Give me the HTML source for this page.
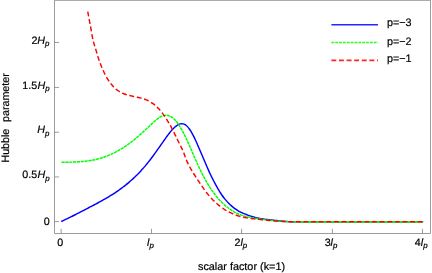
<!DOCTYPE html>
<html><head><meta charset="utf-8"><title>plot</title>
<style>
html,body{margin:0;padding:0;background:#fff;}
body{width:432px;height:273px;overflow:hidden;position:relative;font-family:"Liberation Sans",sans-serif;}
</style></head><body>
<svg width="432" height="273" viewBox="0 0 432 273" style="position:absolute;left:0;top:0;display:block;will-change:transform">
<rect width="432" height="273" fill="#fff"/>
<g fill="none" stroke-width="1.45" stroke-linecap="butt" stroke-linejoin="round">
<path d="M61.70 221.23 C61.95 221.11 62.70 220.77 63.20 220.54 C63.70 220.31 64.20 220.08 64.70 219.84 C65.20 219.61 65.70 219.38 66.20 219.14 C66.70 218.90 67.20 218.66 67.70 218.42 C68.20 218.18 68.70 217.94 69.20 217.70 C69.70 217.46 70.20 217.21 70.70 216.97 C71.20 216.72 71.70 216.48 72.20 216.23 C72.70 215.98 73.20 215.73 73.70 215.48 C74.20 215.23 74.70 214.98 75.20 214.73 C75.70 214.48 76.20 214.22 76.70 213.97 C77.20 213.72 77.70 213.46 78.20 213.20 C78.70 212.95 79.20 212.69 79.70 212.44 C80.20 212.18 80.70 211.92 81.20 211.66 C81.70 211.40 82.20 211.14 82.70 210.88 C83.20 210.63 83.70 210.36 84.20 210.10 C84.70 209.84 85.20 209.58 85.70 209.32 C86.20 209.06 86.70 208.80 87.20 208.54 C87.70 208.28 88.20 208.01 88.70 207.75 C89.20 207.49 89.70 207.23 90.20 206.96 C90.70 206.70 91.20 206.44 91.70 206.18 C92.20 205.91 92.70 205.65 93.20 205.39 C93.70 205.12 94.20 204.86 94.70 204.59 C95.20 204.33 95.70 204.06 96.20 203.80 C96.70 203.53 97.20 203.26 97.70 202.99 C98.20 202.72 98.70 202.45 99.20 202.18 C99.70 201.91 100.20 201.64 100.70 201.36 C101.20 201.08 101.70 200.81 102.20 200.53 C102.70 200.25 103.20 199.97 103.70 199.68 C104.20 199.40 104.70 199.12 105.20 198.83 C105.70 198.54 106.20 198.25 106.70 197.96 C107.20 197.66 107.70 197.37 108.20 197.07 C108.70 196.77 109.20 196.47 109.70 196.16 C110.20 195.86 110.70 195.55 111.20 195.24 C111.70 194.93 112.20 194.61 112.70 194.29 C113.20 193.97 113.70 193.65 114.20 193.33 C114.70 193.00 115.20 192.67 115.70 192.33 C116.20 192.00 116.70 191.66 117.20 191.32 C117.70 190.97 118.20 190.63 118.70 190.28 C119.20 189.92 119.70 189.57 120.20 189.21 C120.70 188.84 121.20 188.48 121.70 188.11 C122.20 187.73 122.70 187.36 123.20 186.98 C123.70 186.59 124.20 186.21 124.70 185.82 C125.20 185.42 125.70 185.02 126.20 184.62 C126.70 184.22 127.20 183.81 127.70 183.39 C128.20 182.98 128.70 182.56 129.20 182.13 C129.70 181.70 130.20 181.27 130.70 180.83 C131.20 180.39 131.70 179.94 132.20 179.49 C132.70 179.04 133.20 178.58 133.70 178.11 C134.20 177.65 134.70 177.17 135.20 176.69 C135.70 176.22 136.20 175.73 136.70 175.24 C137.20 174.74 137.70 174.24 138.20 173.73 C138.70 173.21 139.20 172.68 139.70 172.15 C140.20 171.61 140.70 171.07 141.20 170.52 C141.70 169.97 142.20 169.41 142.70 168.84 C143.20 168.28 143.70 167.70 144.20 167.12 C144.70 166.54 145.20 165.95 145.70 165.35 C146.20 164.75 146.70 164.14 147.20 163.53 C147.70 162.91 148.20 162.29 148.70 161.65 C149.20 161.02 149.70 160.38 150.20 159.73 C150.70 159.08 151.20 158.42 151.70 157.75 C152.20 157.08 152.70 156.41 153.20 155.73 C153.70 155.05 154.20 154.36 154.70 153.66 C155.20 152.97 155.70 152.27 156.20 151.57 C156.70 150.86 157.20 150.15 157.70 149.44 C158.20 148.73 158.70 148.03 159.20 147.32 C159.70 146.62 160.20 145.91 160.70 145.20 C161.20 144.49 161.70 143.78 162.20 143.07 C162.70 142.36 163.20 141.65 163.70 140.94 C164.20 140.23 164.70 139.51 165.20 138.81 C165.70 138.10 166.20 137.39 166.70 136.69 C167.20 135.99 167.70 135.28 168.20 134.61 C168.70 133.95 169.20 133.31 169.70 132.69 C170.20 132.06 170.70 131.45 171.20 130.87 C171.70 130.28 172.20 129.72 172.70 129.19 C173.20 128.66 173.70 128.15 174.20 127.68 C174.70 127.22 175.20 126.79 175.70 126.39 C176.20 125.99 176.70 125.60 177.20 125.28 C177.70 124.95 178.20 124.66 178.70 124.43 C179.20 124.20 179.70 124.02 180.20 123.90 C180.70 123.78 181.20 123.71 181.70 123.71 C182.20 123.71 182.70 123.77 183.20 123.89 C183.70 124.02 184.20 124.21 184.70 124.47 C185.20 124.73 185.70 125.05 186.20 125.46 C186.70 125.86 187.20 126.34 187.70 126.88 C188.20 127.43 188.70 128.06 189.20 128.75 C189.70 129.43 190.20 130.19 190.70 130.99 C191.20 131.80 191.70 132.67 192.20 133.58 C192.70 134.48 193.20 135.44 193.70 136.44 C194.20 137.43 194.70 138.46 195.20 139.53 C195.70 140.59 196.20 141.70 196.70 142.83 C197.20 143.95 197.70 145.12 198.20 146.27 C198.70 147.43 199.20 148.60 199.70 149.76 C200.20 150.93 200.70 152.10 201.20 153.27 C201.70 154.44 202.20 155.62 202.70 156.79 C203.20 157.96 203.70 159.13 204.20 160.30 C204.70 161.46 205.20 162.63 205.70 163.79 C206.20 164.94 206.70 166.10 207.20 167.24 C207.70 168.38 208.20 169.52 208.70 170.64 C209.20 171.76 209.70 172.89 210.20 173.96 C210.70 175.02 211.20 176.02 211.70 177.03 C212.20 178.04 212.70 179.04 213.20 180.01 C213.70 180.99 214.20 181.95 214.70 182.89 C215.20 183.84 215.70 184.78 216.20 185.69 C216.70 186.61 217.20 187.50 217.70 188.37 C218.20 189.24 218.70 190.09 219.20 190.90 C219.70 191.72 220.20 192.51 220.70 193.27 C221.20 194.03 221.70 194.77 222.20 195.48 C222.70 196.18 223.20 196.87 223.70 197.52 C224.20 198.18 224.70 198.80 225.20 199.40 C225.70 200.01 226.20 200.58 226.70 201.14 C227.20 201.70 227.70 202.23 228.20 202.75 C228.70 203.27 229.20 203.76 229.70 204.24 C230.20 204.71 230.70 205.17 231.20 205.61 C231.70 206.05 232.20 206.48 232.70 206.88 C233.20 207.29 233.70 207.69 234.20 208.06 C234.70 208.44 235.20 208.79 235.70 209.14 C236.20 209.48 236.70 209.80 237.20 210.11 C237.70 210.43 238.20 210.72 238.70 211.01 C239.20 211.30 239.70 211.58 240.20 211.84 C240.70 212.10 241.20 212.36 241.70 212.60 C242.20 212.84 242.70 213.07 243.20 213.29 C243.70 213.51 244.20 213.70 244.70 213.91 C245.20 214.12 245.70 214.33 246.20 214.53 C246.70 214.73 247.20 214.93 247.70 215.11 C248.20 215.30 248.70 215.47 249.20 215.64 C249.70 215.80 250.20 215.96 250.70 216.11 C251.20 216.26 251.70 216.40 252.20 216.55 C252.70 216.69 253.20 216.85 253.70 217.00 C254.20 217.14 254.70 217.28 255.20 217.41 C255.70 217.54 256.20 217.66 256.70 217.78 C257.20 217.90 257.70 218.01 258.20 218.12 C258.70 218.22 259.20 218.32 259.70 218.42 C260.20 218.52 260.70 218.61 261.20 218.70 C261.70 218.79 262.20 218.87 262.70 218.95 C263.20 219.03 263.70 219.10 264.20 219.18 C264.70 219.25 265.20 219.32 265.70 219.39 C266.20 219.45 266.70 219.52 267.20 219.58 C267.70 219.64 268.20 219.70 268.70 219.75 C269.20 219.81 269.70 219.86 270.20 219.92 C270.70 219.97 271.20 220.02 271.70 220.07 C272.20 220.13 272.70 220.18 273.20 220.23 C273.70 220.28 274.20 220.32 274.70 220.37 C275.20 220.42 275.70 220.47 276.20 220.52 C276.70 220.57 277.20 220.62 277.70 220.67 C278.20 220.72 278.70 220.76 279.20 220.81 C279.70 220.86 280.20 220.91 280.70 220.96 C281.20 221.00 281.70 221.05 282.20 221.10 C282.70 221.15 283.20 221.19 283.70 221.24 C284.20 221.28 284.70 221.33 285.20 221.37 C285.70 221.42 286.20 221.47 286.70 221.51 C287.20 221.55 287.70 221.60 288.20 221.63 C288.70 221.65 289.20 221.66 289.70 221.67 C290.20 221.68 290.70 221.70 291.20 221.71 C291.70 221.72 292.20 221.73 292.70 221.74 C293.20 221.75 293.70 221.76 294.20 221.77 C294.70 221.78 294.73 221.80 295.70 221.79 C296.67 221.78 298.45 221.74 300.00 221.73 C301.55 221.72 303.00 221.73 305.00 221.72 C307.00 221.71 309.17 221.69 312.00 221.68 C314.83 221.68 317.33 221.69 322.00 221.70 C326.67 221.70 332.00 221.70 340.00 221.70 C348.00 221.70 360.00 221.70 370.00 221.70 C380.00 221.70 391.23 221.70 400.00 221.70 C408.77 221.70 418.83 221.70 422.60 221.70" stroke="#0000ff" stroke-linecap="round"/>
<path d="M296 221.6 L312 221.7 H422.6" stroke="#00ff00"/>
<path d="M61.50 162.25 C61.75 162.25 62.50 162.25 63.00 162.24 C63.50 162.24 64.00 162.24 64.50 162.23 C65.00 162.23 65.50 162.23 66.00 162.22 C66.50 162.22 67.00 162.21 67.50 162.20 C68.00 162.20 68.50 162.19 69.00 162.18 C69.50 162.17 70.00 162.16 70.50 162.15 C71.00 162.14 71.50 162.12 72.00 162.11 C72.50 162.09 73.00 162.08 73.50 162.06 C74.00 162.04 74.50 162.02 75.00 162.00 C75.50 161.98 76.00 161.95 76.50 161.93 C77.00 161.90 77.50 161.87 78.00 161.84 C78.50 161.81 79.00 161.78 79.50 161.74 C80.00 161.71 80.50 161.67 81.00 161.63 C81.50 161.59 82.00 161.54 82.50 161.50 C83.00 161.45 83.50 161.40 84.00 161.35 C84.50 161.29 85.00 161.24 85.50 161.18 C86.00 161.12 86.50 161.06 87.00 160.99 C87.50 160.92 88.00 160.85 88.50 160.78 C89.00 160.71 89.50 160.63 90.00 160.55 C90.50 160.46 91.00 160.38 91.50 160.29 C92.00 160.20 92.50 160.11 93.00 160.01 C93.50 159.91 94.00 159.81 94.50 159.70 C95.00 159.59 95.50 159.48 96.00 159.37 C96.50 159.25 97.00 159.13 97.50 159.00 C98.00 158.88 98.50 158.75 99.00 158.61 C99.50 158.47 100.00 158.33 100.50 158.19 C101.00 158.04 101.50 157.89 102.00 157.73 C102.50 157.57 103.00 157.41 103.50 157.24 C104.00 157.07 104.50 156.90 105.00 156.72 C105.50 156.54 106.00 156.35 106.50 156.16 C107.00 155.97 107.50 155.78 108.00 155.58 C108.50 155.37 109.00 155.17 109.50 154.95 C110.00 154.74 110.50 154.52 111.00 154.30 C111.50 154.07 112.00 153.84 112.50 153.61 C113.00 153.37 113.50 153.13 114.00 152.88 C114.50 152.64 115.00 152.38 115.50 152.12 C116.00 151.87 116.50 151.60 117.00 151.33 C117.50 151.06 118.00 150.79 118.50 150.50 C119.00 150.22 119.50 149.93 120.00 149.64 C120.50 149.35 121.00 149.05 121.50 148.74 C122.00 148.44 122.50 148.13 123.00 147.81 C123.50 147.50 124.00 147.17 124.50 146.85 C125.00 146.52 125.50 146.18 126.00 145.84 C126.50 145.50 127.00 145.16 127.50 144.80 C128.00 144.45 128.50 144.09 129.00 143.73 C129.50 143.37 130.00 143.00 130.50 142.62 C131.00 142.25 131.50 141.86 132.00 141.48 C132.50 141.09 133.00 140.69 133.50 140.29 C134.00 139.89 134.50 139.49 135.00 139.08 C135.50 138.66 136.00 138.25 136.50 137.82 C137.00 137.40 137.50 136.97 138.00 136.54 C138.50 136.10 139.00 135.66 139.50 135.22 C140.00 134.78 140.50 134.33 141.00 133.88 C141.50 133.43 142.00 132.97 142.50 132.51 C143.00 132.06 143.50 131.60 144.00 131.13 C144.50 130.67 145.00 130.21 145.50 129.74 C146.00 129.27 146.50 128.80 147.00 128.33 C147.50 127.87 148.00 127.39 148.50 126.92 C149.00 126.45 149.50 125.98 150.00 125.51 C150.50 125.04 151.00 124.57 151.50 124.10 C152.00 123.63 152.50 123.16 153.00 122.70 C153.50 122.24 154.00 121.79 154.50 121.35 C155.00 120.90 155.50 120.47 156.00 120.06 C156.50 119.64 157.00 119.24 157.50 118.86 C158.00 118.49 158.50 118.13 159.00 117.80 C159.50 117.47 160.00 117.16 160.50 116.89 C161.00 116.61 161.50 116.37 162.00 116.16 C162.50 115.95 163.00 115.78 163.50 115.65 C164.00 115.51 164.50 115.42 165.00 115.36 C165.50 115.30 166.00 115.28 166.50 115.31 C167.00 115.33 167.50 115.39 168.00 115.50 C168.50 115.61 169.00 115.76 169.50 115.95 C170.00 116.14 170.50 116.38 171.00 116.66 C171.50 116.95 172.00 117.27 172.50 117.65 C173.00 118.03 173.50 118.45 174.00 118.92 C174.50 119.39 175.00 119.91 175.50 120.47 C176.00 121.04 176.50 121.65 177.00 122.30 C177.50 122.96 178.00 123.65 178.50 124.39 C179.00 125.13 179.50 125.91 180.00 126.73 C180.50 127.55 181.00 128.41 181.50 129.29 C182.00 130.18 182.50 131.11 183.00 132.06 C183.50 133.01 184.00 134.00 184.50 135.01 C185.00 136.01 185.50 137.05 186.00 138.10 C186.50 139.15 187.00 140.23 187.50 141.32 C188.00 142.40 188.50 143.51 189.00 144.63 C189.50 145.74 190.00 146.87 190.50 148.01 C191.00 149.14 191.50 150.29 192.00 151.43 C192.50 152.58 193.00 153.73 193.50 154.88 C194.00 156.02 194.50 157.17 195.00 158.31 C195.50 159.44 196.00 160.58 196.50 161.70 C197.00 162.82 197.50 163.94 198.00 165.04 C198.50 166.13 199.00 167.22 199.50 168.28 C200.00 169.34 200.50 170.39 201.00 171.41 C201.50 172.43 202.00 173.44 202.50 174.42 C203.00 175.41 203.50 176.38 204.00 177.32 C204.50 178.26 205.00 179.18 205.50 180.07 C206.00 180.97 206.50 181.82 207.00 182.67 C207.50 183.52 208.00 184.35 208.50 185.16 C209.00 185.97 209.50 186.76 210.00 187.53 C210.50 188.30 211.00 189.06 211.50 189.79 C212.00 190.52 212.50 191.24 213.00 191.93 C213.50 192.63 214.00 193.31 214.50 193.97 C215.00 194.63 215.50 195.27 216.00 195.89 C216.50 196.51 217.00 197.12 217.50 197.71 C218.00 198.30 218.50 198.88 219.00 199.44 C219.50 199.99 220.00 200.54 220.50 201.06 C221.00 201.59 221.50 202.10 222.00 202.59 C222.50 203.08 223.00 203.56 223.50 204.02 C224.00 204.48 224.50 204.92 225.00 205.35 C225.50 205.78 226.00 206.19 226.50 206.60 C227.00 207.01 227.50 207.41 228.00 207.80 C228.50 208.19 229.00 208.56 229.50 208.91 C230.00 209.27 230.50 209.61 231.00 209.94 C231.50 210.27 232.00 210.59 232.50 210.90 C233.00 211.20 233.50 211.49 234.00 211.77 C234.50 212.05 235.00 212.32 235.50 212.58 C236.00 212.83 236.50 213.08 237.00 213.31 C237.50 213.55 238.00 213.77 238.50 213.98 C239.00 214.20 239.50 214.40 240.00 214.60 C240.50 214.79 241.00 214.97 241.50 215.15 C242.00 215.33 242.50 215.49 243.00 215.65 C243.50 215.81 244.00 215.96 244.50 216.10 C245.00 216.24 245.50 216.38 246.00 216.51 C246.50 216.64 247.00 216.76 247.50 216.87 C248.00 216.99 248.50 217.09 249.00 217.20 C249.50 217.30 250.00 217.39 250.50 217.49 C251.00 217.58 251.50 217.65 252.00 217.75 C252.50 217.84 253.00 217.94 253.50 218.03 C254.00 218.13 254.50 218.22 255.00 218.30 C255.50 218.39 256.00 218.47 256.50 218.55 C257.00 218.63 257.50 218.70 258.00 218.78 C258.50 218.85 259.00 218.92 259.50 219.00 C260.00 219.07 260.50 219.14 261.00 219.20 C261.50 219.27 262.00 219.34 262.50 219.41 C263.00 219.47 263.50 219.54 264.00 219.60 C264.50 219.66 265.00 219.72 265.50 219.78 C266.00 219.85 266.50 219.91 267.00 219.97 C267.50 220.02 268.00 220.08 268.50 220.14 C269.00 220.20 269.50 220.25 270.00 220.31 C270.50 220.36 271.00 220.41 271.50 220.47 C272.00 220.52 272.50 220.57 273.00 220.62 C273.50 220.67 274.00 220.72 274.50 220.77 C275.00 220.81 275.50 220.86 276.00 220.90 C276.50 220.94 277.00 220.98 277.50 221.01 C278.00 221.05 278.50 221.09 279.00 221.13 C279.50 221.16 280.00 221.20 280.50 221.23 C281.00 221.27 281.50 221.30 282.00 221.33 C282.50 221.37 283.00 221.40 283.50 221.43 C284.00 221.46 284.50 221.49 285.00 221.52 C285.50 221.55 286.00 221.58 286.50 221.61 C287.00 221.64 287.50 221.68 288.00 221.69 C288.50 221.71 289.00 221.70 289.50 221.70 C290.00 221.70 290.50 221.70 291.00 221.70 C291.50 221.70 292.00 221.70 292.50 221.70 C293.00 221.70 293.50 221.70 294.00 221.70 C294.50 221.70 294.50 221.70 295.50 221.70 C296.50 221.69 298.42 221.69 300.00 221.69 C301.58 221.69 303.00 221.70 305.00 221.70 C307.00 221.70 309.17 221.68 312.00 221.67 C314.83 221.67 317.33 221.69 322.00 221.69 C326.67 221.70 332.00 221.70 340.00 221.70 C348.00 221.70 360.00 221.70 370.00 221.70 C380.00 221.70 391.23 221.70 400.00 221.70 C408.77 221.70 418.83 221.70 422.60 221.70" stroke="#00ff00" stroke-dasharray="3.2 0.65"/>
<path d="M87.75 11.60 C88.00 12.96 88.75 17.07 89.25 19.75 C89.75 22.42 90.25 24.86 90.75 27.65 C91.25 30.43 91.75 33.92 92.25 36.46 C92.75 39.00 93.25 41.04 93.75 42.90 C94.25 44.75 94.75 45.95 95.25 47.60 C95.75 49.25 96.25 51.09 96.75 52.79 C97.25 54.49 97.75 56.23 98.25 57.79 C98.75 59.35 99.25 60.76 99.75 62.13 C100.25 63.50 100.75 64.77 101.25 66.01 C101.75 67.25 102.25 68.43 102.75 69.56 C103.25 70.68 103.75 71.76 104.25 72.79 C104.75 73.81 105.25 74.79 105.75 75.72 C106.25 76.65 106.75 77.54 107.25 78.38 C107.75 79.22 108.25 80.01 108.75 80.77 C109.25 81.53 109.75 82.24 110.25 82.92 C110.75 83.59 111.25 84.23 111.75 84.83 C112.25 85.43 112.75 85.99 113.25 86.53 C113.75 87.06 114.25 87.56 114.75 88.02 C115.25 88.49 115.75 88.93 116.25 89.34 C116.75 89.75 117.25 90.13 117.75 90.49 C118.25 90.84 118.75 91.17 119.25 91.48 C119.75 91.79 120.25 92.08 120.75 92.34 C121.25 92.61 121.75 92.85 122.25 93.08 C122.75 93.31 123.25 93.52 123.75 93.72 C124.25 93.92 124.75 94.10 125.25 94.27 C125.75 94.45 126.25 94.60 126.75 94.75 C127.25 94.91 127.75 95.05 128.25 95.18 C128.75 95.31 129.25 95.44 129.75 95.56 C130.25 95.68 130.75 95.80 131.25 95.91 C131.75 96.02 132.25 96.13 132.75 96.24 C133.25 96.35 133.75 96.45 134.25 96.55 C134.75 96.66 135.25 96.76 135.75 96.87 C136.25 96.97 136.75 97.08 137.25 97.19 C137.75 97.30 138.25 97.41 138.75 97.53 C139.25 97.64 139.75 97.76 140.25 97.89 C140.75 98.02 141.25 98.16 141.75 98.30 C142.25 98.44 142.75 98.59 143.25 98.75 C143.75 98.91 144.25 99.08 144.75 99.27 C145.25 99.45 145.75 99.64 146.25 99.85 C146.75 100.06 147.25 100.28 147.75 100.51 C148.25 100.75 148.75 101.00 149.25 101.26 C149.75 101.53 150.25 101.81 150.75 102.11 C151.25 102.41 151.75 102.73 152.25 103.07 C152.75 103.41 153.25 103.77 153.75 104.15 C154.25 104.54 154.75 104.94 155.25 105.36 C155.75 105.79 156.25 106.24 156.75 106.71 C157.25 107.19 157.75 107.69 158.25 108.22 C158.75 108.74 159.25 109.29 159.75 109.87 C160.25 110.44 160.75 111.04 161.25 111.67 C161.75 112.29 162.25 112.94 162.75 113.61 C163.25 114.29 163.75 114.98 164.25 115.70 C164.75 116.42 165.25 117.17 165.75 117.93 C166.25 118.70 166.75 119.49 167.25 120.30 C167.75 121.11 168.25 121.94 168.75 122.80 C169.25 123.65 169.75 124.53 170.25 125.43 C170.75 126.32 171.25 127.24 171.75 128.18 C172.25 129.12 172.75 130.08 173.25 131.06 C173.75 132.04 174.25 133.05 174.75 134.06 C175.25 135.07 175.75 136.11 176.25 137.14 C176.75 138.17 177.25 139.21 177.75 140.24 C178.25 141.26 178.75 142.30 179.25 143.30 C179.75 144.31 180.25 145.30 180.75 146.29 C181.25 147.28 181.75 148.15 182.25 149.24 C182.75 150.32 183.25 151.50 183.75 152.80 C184.25 154.09 184.75 155.68 185.25 157.03 C185.75 158.37 186.25 159.67 186.75 160.86 C187.25 162.04 187.75 163.10 188.25 164.12 C188.75 165.14 189.25 166.07 189.75 166.98 C190.25 167.90 190.75 168.76 191.25 169.61 C191.75 170.46 192.25 171.29 192.75 172.10 C193.25 172.92 193.75 173.71 194.25 174.50 C194.75 175.29 195.25 176.07 195.75 176.85 C196.25 177.63 196.75 178.40 197.25 179.17 C197.75 179.94 198.25 180.71 198.75 181.47 C199.25 182.23 199.75 182.99 200.25 183.74 C200.75 184.48 201.25 185.23 201.75 185.96 C202.25 186.69 202.75 187.42 203.25 188.13 C203.75 188.85 204.25 189.57 204.75 190.25 C205.25 190.93 205.75 191.57 206.25 192.21 C206.75 192.85 207.25 193.48 207.75 194.09 C208.25 194.70 208.75 195.30 209.25 195.88 C209.75 196.46 210.25 197.03 210.75 197.58 C211.25 198.13 211.75 198.66 212.25 199.19 C212.75 199.71 213.25 200.23 213.75 200.73 C214.25 201.23 214.75 201.71 215.25 202.18 C215.75 202.65 216.25 203.11 216.75 203.55 C217.25 203.99 217.75 204.41 218.25 204.83 C218.75 205.24 219.25 205.63 219.75 206.02 C220.25 206.42 220.75 206.81 221.25 207.19 C221.75 207.56 222.25 207.93 222.75 208.28 C223.25 208.63 223.75 208.97 224.25 209.30 C224.75 209.63 225.25 209.95 225.75 210.25 C226.25 210.56 226.75 210.85 227.25 211.13 C227.75 211.42 228.25 211.69 228.75 211.95 C229.25 212.21 229.75 212.46 230.25 212.70 C230.75 212.94 231.25 213.17 231.75 213.39 C232.25 213.62 232.75 213.84 233.25 214.04 C233.75 214.25 234.25 214.45 234.75 214.65 C235.25 214.84 235.75 215.02 236.25 215.20 C236.75 215.37 237.25 215.54 237.75 215.70 C238.25 215.86 238.75 216.01 239.25 216.15 C239.75 216.30 240.25 216.43 240.75 216.57 C241.25 216.70 241.75 216.82 242.25 216.94 C242.75 217.06 243.25 217.17 243.75 217.27 C244.25 217.38 244.75 217.48 245.25 217.58 C245.75 217.67 246.25 217.76 246.75 217.85 C247.25 217.93 247.75 218.01 248.25 218.09 C248.75 218.16 249.25 218.23 249.75 218.30 C250.25 218.37 250.75 218.43 251.25 218.50 C251.75 218.56 252.25 218.62 252.75 218.69 C253.25 218.75 253.75 218.82 254.25 218.88 C254.75 218.95 255.25 219.01 255.75 219.06 C256.25 219.12 256.75 219.18 257.25 219.23 C257.75 219.29 258.25 219.34 258.75 219.39 C259.25 219.45 259.75 219.50 260.25 219.55 C260.75 219.60 261.25 219.65 261.75 219.70 C262.25 219.75 262.75 219.80 263.25 219.85 C263.75 219.89 264.25 219.94 264.75 219.99 C265.25 220.04 265.75 220.09 266.25 220.14 C266.75 220.19 267.25 220.24 267.75 220.29 C268.25 220.34 268.75 220.39 269.25 220.43 C269.75 220.48 270.25 220.53 270.75 220.58 C271.25 220.62 271.75 220.67 272.25 220.72 C272.75 220.76 273.25 220.81 273.75 220.85 C274.25 220.89 274.75 220.94 275.25 220.98 C275.75 221.02 276.25 221.05 276.75 221.08 C277.25 221.11 277.75 221.15 278.25 221.18 C278.75 221.21 279.25 221.24 279.75 221.27 C280.25 221.31 280.75 221.34 281.25 221.37 C281.75 221.40 282.25 221.43 282.75 221.46 C283.25 221.48 283.75 221.51 284.25 221.54 C284.75 221.57 285.25 221.60 285.75 221.62 C286.25 221.65 286.75 221.68 287.25 221.70 C287.75 221.72 288.25 221.74 288.75 221.75 C289.25 221.76 289.75 221.75 290.25 221.76 C290.75 221.76 291.25 221.76 291.75 221.77 C292.25 221.77 292.75 221.77 293.25 221.77 C293.75 221.77 293.62 221.78 294.75 221.77 C295.88 221.77 298.29 221.75 300.00 221.74 C301.71 221.73 303.00 221.74 305.00 221.73 C307.00 221.72 309.17 221.69 312.00 221.69 C314.83 221.68 317.33 221.69 322.00 221.70 C326.67 221.70 332.00 221.70 340.00 221.70 C348.00 221.70 360.00 221.70 370.00 221.70 C380.00 221.70 391.23 221.70 400.00 221.70 C408.77 221.70 418.83 221.70 422.60 221.70" stroke="#ff0000" stroke-dasharray="4.9 2.7"/>
</g>
<g stroke="#666" stroke-width="0.65" fill="none">
<path d="M54.50 0.35 H430.50 V233.50 H54.50 Z"/>
<path d="M61.15 233.50 v-4.7"/>
<path d="M151.50 233.50 v-4.7"/>
<path d="M241.60 233.50 v-4.7"/>
<path d="M332.40 233.50 v-4.7"/>
<path d="M422.50 233.50 v-4.7"/>
<path d="M54.50 221.65 h4.5"/>
<path d="M54.50 176.95 h4.5"/>
<path d="M54.50 132.20 h4.5"/>
<path d="M54.50 87.40 h4.5"/>
<path d="M54.50 42.50 h4.5"/>
</g>
<g fill="none" stroke-width="1.6" stroke-opacity="0.85">
<path d="M331.4 24.7 H378" stroke="#0000ff"/>
<path d="M331.4 42.55 H378" stroke="#00ff00" stroke-dasharray="2.85 1.0"/>
<path d="M331.4 60.4 H378" stroke="#ff0000" stroke-dasharray="4.9 2.7"/>
</g>
<g font-family="'Liberation Sans', sans-serif" font-size="10.7" fill="#000" stroke="#000" stroke-width="0.2" text-rendering="geometricPrecision">
<text x="387.0" y="26.4" font-size="10.8">p=−3</text>
<text x="387.0" y="44.8" font-size="10.8">p=−2</text>
<text x="387.0" y="62.2" font-size="10.8">p=−1</text>
<text x="49.45" y="43.9" text-anchor="end">2<tspan font-style="italic" dx="0.00">H</tspan><tspan font-style="italic" font-size="7.9" dy="2.2">p</tspan></text>
<text x="49.65" y="88.7" text-anchor="end">1.5<tspan font-style="italic" dx="0.45">H</tspan><tspan font-style="italic" font-size="7.9" dy="2.2">p</tspan></text>
<text x="49.45" y="133.3" text-anchor="end"><tspan font-style="italic" dx="0.00">H</tspan><tspan font-style="italic" font-size="7.9" dy="2.2">p</tspan></text>
<text x="49.65" y="178.3" text-anchor="end">0.5<tspan font-style="italic" dx="0.45">H</tspan><tspan font-style="italic" font-size="7.9" dy="2.2">p</tspan></text>
<text x="49.8" y="225.4" text-anchor="end">0</text>
<text x="60.2" y="245.9" text-anchor="middle">0</text>
<text x="150.5" y="245.9" text-anchor="middle"><tspan font-style="italic">l</tspan><tspan font-style="italic" font-size="7.9" dy="2.2">p</tspan></text>
<text x="240.8" y="245.9" text-anchor="middle">2<tspan font-style="italic">l</tspan><tspan font-style="italic" font-size="7.9" dy="2.2">p</tspan></text>
<text x="331.0" y="245.9" text-anchor="middle">3<tspan font-style="italic">l</tspan><tspan font-style="italic" font-size="7.9" dy="2.2">p</tspan></text>
<text x="421.2" y="245.9" text-anchor="middle">4<tspan font-style="italic">l</tspan><tspan font-style="italic" font-size="7.9" dy="2.2">p</tspan></text>
<text x="241.5" y="269.7" text-anchor="middle" font-size="10.85">scalar factor (k=1)</text>
<text transform="translate(8.9 117.9) rotate(-90)" text-anchor="middle" word-spacing="0.4" xml:space="preserve" style="white-space:pre">Hubble  parameter</text>
</g>
</svg>
</body></html>
